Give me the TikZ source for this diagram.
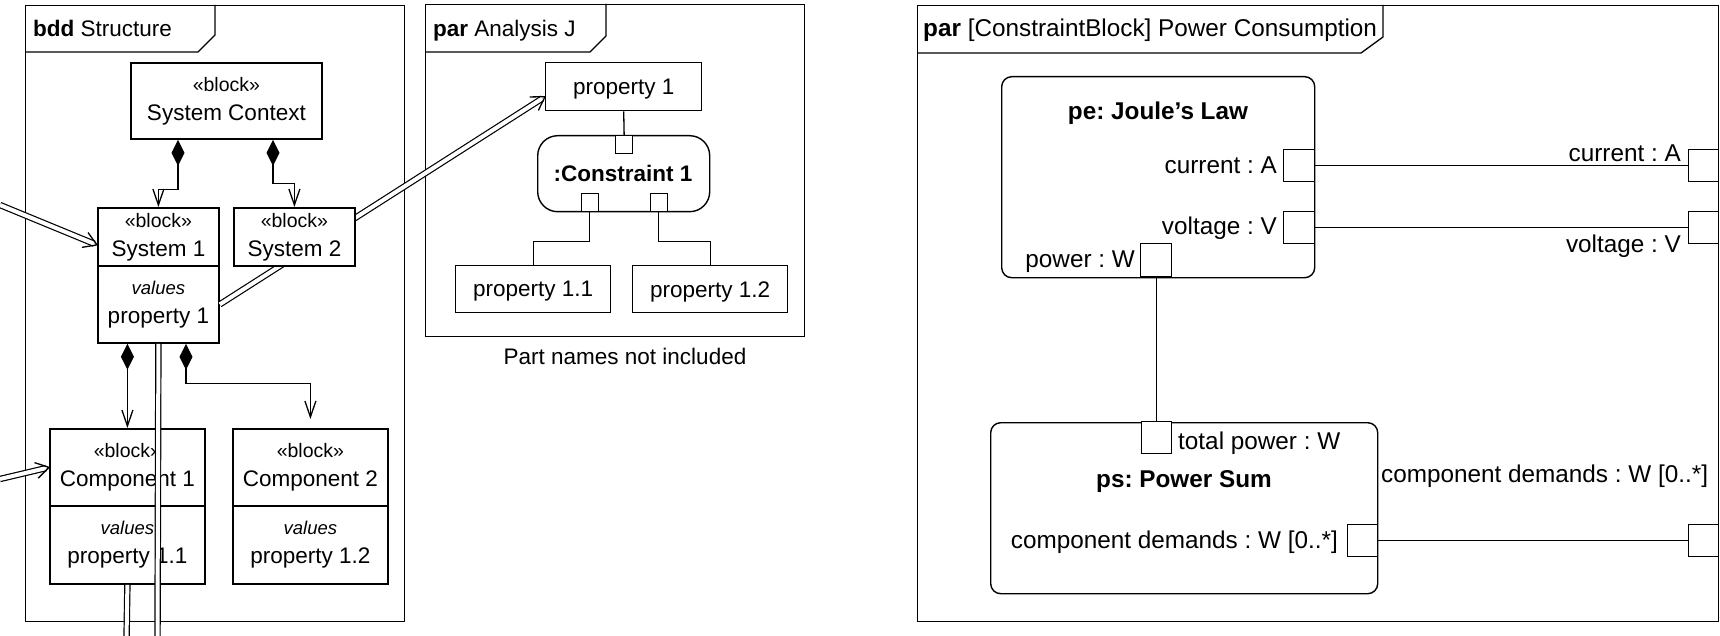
\documentclass[tikz,border=0pt]{standalone}
\usepackage{fontspec}
\setmainfont{Liberation Sans}
\usetikzlibrary{arrows.meta,calc}

\newcommand{\stereo}[1]{{\fontsize{19.5}{29}\selectfont «#1»}}
\newcommand{\cmpt}[1]{{\fontsize{18.5}{29}\selectfont\itshape #1}}
% double-line connector ending in an open head (a "binding" arrow)
\newcommand{\bindarrow}[2]{%
  \draw[dbl, shorten >=3pt] (#1) -- (#2);
  \draw[headline] ($(#2)!13pt!(#1)!8pt!90:(#2)$) -- (#2)
                  -- ($(#2)!13pt!(#1)!8pt!-90:(#2)$);}
\frenchspacing

\begin{document}
\begin{tikzpicture}[x=1pt,y=-1pt,
  lfont/.style={font=\fontsize{22.5}{29}\selectfont},
  rfont/.style={font=\fontsize{24.3}{29}\selectfont},
  frm/.style={draw, line width=1.3pt, inner sep=0, anchor=north west},
  frmline/.style={draw, line width=1.3pt},
  blk/.style={draw, line width=1.8pt, fill=white, inner sep=0, align=center,
              anchor=north west, lfont},
  pbox/.style={draw, line width=1.4pt, fill=white, inner sep=0, align=center,
               anchor=north west, lfont, text depth=0pt},
  cblk/.style={draw, line width=1.4pt, fill=white, inner sep=0, anchor=north west,
               rounded corners=#1},
  port/.style={draw, line width=1.3pt, fill=white, inner sep=0, anchor=north west},
  lbl/.style={inner sep=0},
  wire/.style={draw, line width=1.3pt},
  comp/.style={draw, line width=1.3pt,
               {Diamond[length=26pt,width=13pt]}-{Straight Barb[length=16pt,width=11pt]}},
  dbl/.style={draw, line width=1.2pt, double=white, double distance=4pt},
  headline/.style={draw, line width=1.3pt, line join=miter},
]
\useasboundingbox (0,0) rectangle (1720,636);

% ---------- bdd frame ----------
\node[frm, minimum width=379pt, minimum height=616pt] (fbdd) at (25,5) {};
\draw[frmline] (25,52) -- (198,52) -- (215,35) -- (215,5);
\node[lbl, lfont, anchor=base west] (tbdd) at (33,37) {\textbf{bdd} Structure};

% ---------- par Analysis J frame ----------
\node[frm, minimum width=379pt, minimum height=332pt] (fpar) at (425,4) {};
\draw[frmline] (425,52) -- (590,52) -- (606,36) -- (606,4);
\node[lbl, lfont, anchor=base west] (tpar) at (433,37) {\textbf{par} Analysis J};
\node[lbl, lfont] (note) at (625,356) {Part names not included};

% ---------- par Power Consumption frame ----------
\node[frm, minimum width=801pt, minimum height=616pt] (fpc) at (917,5) {};
\draw[frmline] (917,53) -- (1361,53) -- (1383,37) -- (1383,5);
\node[lbl, rfont, anchor=base west] (tpc) at (923,37)
  {\textbf{par} [ConstraintBlock] Power Consumption};

% ---------- bdd blocks ----------
\node[blk, minimum width=191pt, minimum height=76pt] (sc) at (130,62)
  {\stereo{block}\\System Context};
\node[blk, minimum width=121pt, minimum height=58pt] (s1) at (97,207)
  {\stereo{block}\\System 1};
\node[blk, minimum width=121pt, minimum height=77pt] (s1v) at (97,265)
  {\cmpt{values}\\property 1};

% ---------- Analysis J parts ----------
\node[pbox, minimum width=156pt, minimum height=48pt] (ap1) at (545,62) {property 1};
\node[cblk=20pt, minimum width=172pt, minimum height=76pt] (con) at (537,135) {};
\node[lbl, lfont] (cont) at (623,173) {\textbf{:Constraint 1}};
\node[port, minimum width=17pt, minimum height=18pt] (cpt) at (615,135) {};
\node[port, minimum width=17pt, minimum height=18pt] (cpl) at (580.5,193) {};
\node[port, minimum width=17pt, minimum height=18pt] (cpr) at (649.5,193) {};
\node[pbox, minimum width=155pt, minimum height=47pt] (ap11) at (455,265) {property 1.1};
\node[pbox, minimum width=155pt, minimum height=47pt] (ap12) at (632,265) {property 1.2};

\draw[wire] (ap1.south) -- (cpt.north);
\draw[wire] (cpl.south) -- ++(0,29) -| (ap11.north);
\draw[wire] (cpr.south) -- ++(0,29) -| (ap12.north);

% binding from System 1 value to the analysis property
\coordinate (ap1in) at ([yshift=-10pt]ap1.west);
\bindarrow{s1v.east}{ap1in}

\node[blk, minimum width=121pt, minimum height=58pt] (s2) at (233,207)
  {\stereo{block}\\System 2};

% composition
\draw[comp] ([xshift=48pt]sc.south west) -- ++(0,50) -| (s1.north);
\draw[comp] ([xshift=143pt]sc.south west) -- ++(0,44) -| (s2.north);

\coordinate (in1) at (0,205);
\coordinate (s1in) at ([yshift=-8pt]s1.west);
\bindarrow{in1}{s1in}

% components
\node[blk, minimum width=155pt, minimum height=77pt] (c1) at (49,428)
  {\stereo{block}\\Component 1};
\node[blk, minimum width=155pt, minimum height=78pt] (c1v) at (49,505)
  {\cmpt{values}\\property 1.1};
\node[blk, minimum width=155pt, minimum height=77pt] (c2) at (232,428)
  {\stereo{block}\\Component 2};
\node[blk, minimum width=155pt, minimum height=78pt] (c2v) at (232,505)
  {\cmpt{values}\\property 1.2};

\draw[comp] (c1.north |- s1v.south) -- (c1.north);
\draw[comp, shorten >=9pt] ([xshift=89pt]s1v.south west) -- ++(0,40) -| (c2.north);

\coordinate (out1) at (157.5,640);
\coordinate (out2) at (126.5,640);
\draw[dbl] (s1v.south) -- (out1);
\draw[dbl] (c1v.south) -- (out2);

\coordinate (in2) at (0,479);
\coordinate (c1in) at (c1.west);
\bindarrow{in2}{c1in}

% ---------- Power Consumption constraint ----------
\node[cblk=10pt, minimum width=313pt, minimum height=201pt] (pe) at (1001,76) {};
\node[lbl, rfont, anchor=base] (pet) at (1158,120) {\textbf{pe: Joule’s Law}};
\node[port, minimum width=31pt, minimum height=32pt] (pcur) at (1283,149) {};
\node[port, minimum width=31pt, minimum height=32pt] (pvol) at (1283,211) {};
\node[port, minimum width=31pt, minimum height=33pt] (ppow) at (1140,243) {};
\node[lbl, rfont, anchor=base east] (lcur) at (1277,174) {current : A};
\node[lbl, rfont, anchor=base east] (lvol) at (1277,235) {voltage : V};
\node[lbl, rfont, anchor=base east] (lpow) at (1135,268) {power : W};

\node[port, minimum width=30pt, minimum height=32pt] (rcur) at (1688,149) {};
\node[port, minimum width=30pt, minimum height=32pt] (rvol) at (1688,211) {};
\node[lbl, rfont, anchor=base east] (lrcur) at (1681,162) {current : A};
\node[lbl, rfont, anchor=base east] (lrvol) at (1681,253) {voltage : V};

\node[cblk=10pt, minimum width=387pt, minimum height=171pt] (ps) at (990,422) {};
\node[lbl, rfont, anchor=base] (pst) at (1184,487) {\textbf{ps: Power Sum}};
\node[port, minimum width=30pt, minimum height=32pt] (ptot) at (1140.5,421) {};
\node[lbl, rfont, anchor=base west] (ltot) at (1178,449) {total power : W};
\node[port, minimum width=30pt, minimum height=32pt] (pcd) at (1347,524) {};
\node[lbl, rfont, anchor=base east] (lcd) at (1338,548) {component demands : W [0..*]};
\node[port, minimum width=30pt, minimum height=32pt] (rcd) at (1688,524) {};
\node[lbl, rfont, anchor=base west] (lrcd) at (1381,482) {component demands : W [0..*]};

\draw[wire] (pcur.east) -- (rcur.west);
\draw[wire] (pvol.east) -- (rvol.west);
\draw[wire] (ppow.south) -- (ptot.north);
\draw[wire] (pcd.east) -- (rcd.west);
\end{tikzpicture}
\end{document}
